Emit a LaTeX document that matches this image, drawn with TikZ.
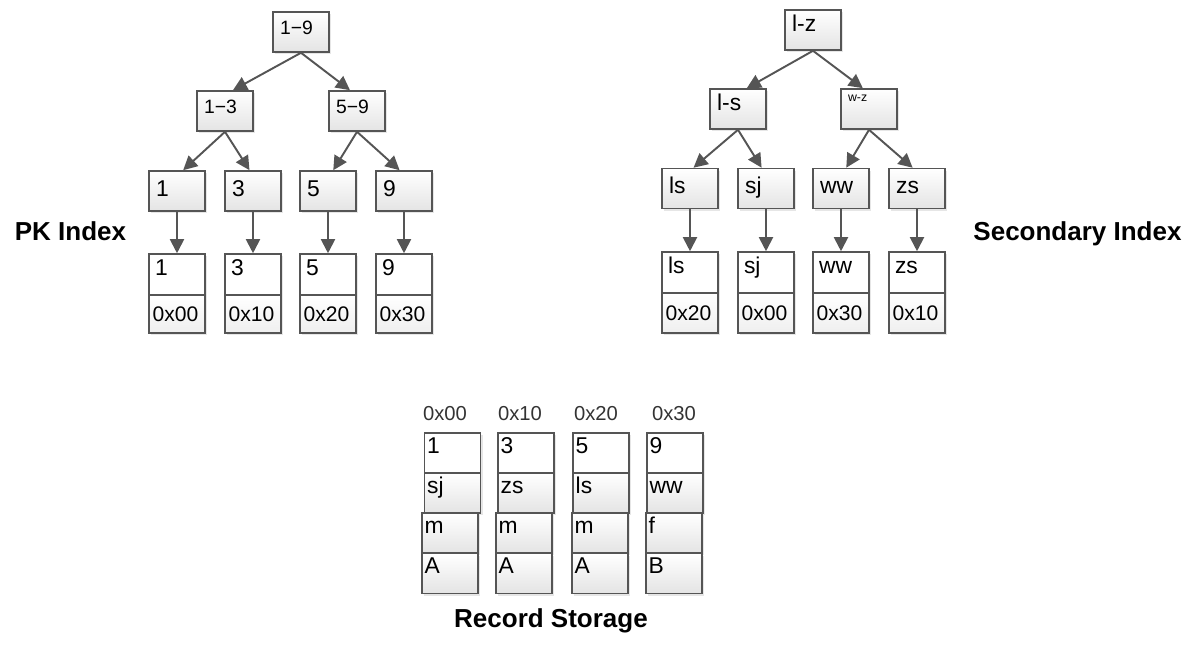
\documentclass[tikz,border=0pt]{standalone}
\usepackage{fontspec}
\setmainfont{Liberation Sans}
\usetikzlibrary{arrows.meta,shadows}

\definecolor{edgegray}{HTML}{555555}
\definecolor{cellfill}{HTML}{E4E4E4}

\tikzstyle{keybox}=[rectangle, draw=edgegray, line width=0.9pt, top color=white, bottom color=cellfill, drop shadow={shadow xshift=1.2pt, shadow yshift=-1.2pt, opacity=0.2}, minimum width=1.12cm, minimum height=0.8cm, inner xsep=4pt, inner ysep=1pt, text width=23.8pt, align=left, font=\fontsize{13}{15}\selectfont, text height=13.4pt, text depth=7.3pt]
\tikzstyle{rangebox}=[keybox, font=\fontsize{11}{13}\selectfont, text height=12pt, text depth=8.7pt]
\tikzstyle{ptrcell}=[rectangle, draw=edgegray, line width=0.9pt, fill=white, drop shadow={shadow xshift=1.2pt, shadow yshift=-1.2pt, opacity=0.2}, minimum width=1.12cm, minimum height=0.82cm, inner xsep=3.4pt, inner ysep=1pt, text width=25pt, align=left, font=\fontsize{13}{15}\selectfont, text height=11.1pt, text depth=10.2pt]
\tikzstyle{addrcell}=[rectangle, draw=edgegray, line width=0.9pt, top color=white, bottom color=cellfill!60, drop shadow={shadow xshift=1.2pt, shadow yshift=-1.2pt, opacity=0.2}, minimum width=1.12cm, minimum height=0.76cm, inner xsep=2pt, inner ysep=1pt, text width=27.8pt, align=left, font=\fontsize{12}{14}\selectfont]
\tikzstyle{firstcell}=[rectangle, draw=edgegray, line width=0.9pt, fill=white, drop shadow={shadow xshift=1.2pt, shadow yshift=-1.2pt, opacity=0.2}, minimum width=1.12cm, minimum height=0.8cm, inner xsep=1.5pt, inner ysep=1pt, text width=28.8pt, align=left, font=\fontsize{13}{15}\selectfont, text height=10.6pt, text depth=10.1pt]
\tikzstyle{fieldcell}=[firstcell, top color=white, bottom color=cellfill]
\tikzstyle{addrlabel}=[inner sep=0pt, text=black!80, font=\fontsize{11.5}{13}\selectfont]
\tikzstyle{title}=[inner sep=0pt, anchor=base, font=\bfseries\fontsize{14.8}{17}\selectfont]
\tikzstyle{link}=[draw=edgegray, line width=1.1pt, -{Triangle[length=8pt,width=8pt]}]

\begin{document}
\begin{tikzpicture}[x=0.02cm, y=-0.02cm]
\useasboundingbox (0,0) rectangle (1186,662);

\node[rangebox] (pk19) at (301,32) {1−9};
\node[rangebox] (pk13) at (225,111) {1−3};
\node[rangebox] (pk59) at (357,111) {5−9};
\node[keybox] (pk1) at (177,191) {1};
\node[keybox] (pk3) at (253,191) {3};
\node[keybox] (pk5) at (328,191) {5};
\node[keybox] (pk9) at (404,191) {9};

\node[ptrcell] (pkr1) at (177,274.5) {1};
\node[addrcell] (pka1) at (177,314) {0x00};
\node[ptrcell] (pkr3) at (253,274.5) {3};
\node[addrcell] (pka3) at (253,314) {0x10};
\node[ptrcell] (pkr5) at (328,274.5) {5};
\node[addrcell] (pka5) at (328,314) {0x20};
\node[ptrcell] (pkr9) at (404,274.5) {9};
\node[addrcell] (pka9) at (404,314) {0x30};

\draw[link] (pk19.south) -- ([xshift=4.5pt]pk13.north);
\draw[link] (pk19.south) -- ([xshift=-4pt]pk59.north);
\draw[link] (pk13.south) -- ([xshift=3.5pt]pk1.north);
\draw[link] (pk13.south) -- ([xshift=-2pt]pk3.north);
\draw[link] (pk59.south) -- ([xshift=3pt]pk5.north);
\draw[link] (pk59.south) -- ([xshift=-2.5pt]pk9.north);
\draw[link] (pk1.south) -- (pkr1.north);
\draw[link] (pk3.south) -- (pkr3.north);
\draw[link] (pk5.south) -- (pkr5.north);
\draw[link] (pk9.south) -- (pkr9.north);

\node[keybox, text height=11.1pt, text depth=9.6pt] (sklz) at (813,30) {l-z};
\node[keybox, text height=11.1pt, text depth=9.6pt] (skls) at (738,109) {l-s};
\node[keybox, font=\fontsize{7}{8}\selectfont, text height=6.3pt, text depth=14.4pt] (skwz) at (869,109) {w-z};
\node[keybox] (skls2) at (690,188.5) {ls};
\node[keybox] (sksj) at (766,188.5) {sj};
\node[keybox] (skww) at (841,188.5) {ww};
\node[keybox] (skzs) at (917,188.5) {zs};

\node[ptrcell] (srls) at (690,272.5) {ls};
\node[addrcell, minimum height=0.8cm] (sals) at (690,313) {0x20};
\node[ptrcell] (srsj) at (766,272.5) {sj};
\node[addrcell, minimum height=0.8cm] (sasj) at (766,313) {0x00};
\node[ptrcell] (srww) at (841,272.5) {ww};
\node[addrcell, minimum height=0.8cm] (saww) at (841,313) {0x30};
\node[ptrcell] (srzs) at (917,272.5) {zs};
\node[addrcell, minimum height=0.8cm] (sazs) at (917,313) {0x10};

\draw[link] (sklz.south) -- ([xshift=5pt]skls.north);
\draw[link] (sklz.south) -- ([xshift=-3.5pt]skwz.north);
\draw[link] (skls.south) -- ([xshift=2pt]skls2.north);
\draw[link] (skls.south) -- ([xshift=-2.5pt]sksj.north);
\draw[link] (skwz.south) -- ([xshift=3pt]skww.north);
\draw[link] (skwz.south) -- ([xshift=-2.5pt]skzs.north);
\draw[link] (skls2.south) -- (srls.north);
\draw[link] (sksj.south) -- (srsj.north);
\draw[link] (skww.south) -- (srww.north);
\draw[link] (skzs.south) -- (srzs.north);

\node[addrlabel] (addr00) at (445,414) {0x00};
\node[addrlabel] (addr10) at (520,414) {0x10};
\node[addrlabel] (addr20) at (596,414) {0x20};
\node[addrlabel] (addr30) at (674,414) {0x30};

\node[firstcell] (rec1a) at (452.5,453) {1};
\node[fieldcell] (rec1b) at (452.5,493) {sj};
\node[fieldcell] (rec1c) at (450,533) {m};
\node[fieldcell] (rec1d) at (450,573.5) {A};

\node[firstcell] (rec2a) at (526,453) {3};
\node[fieldcell] (rec2b) at (526,493) {zs};
\node[fieldcell] (rec2c) at (524,533) {m};
\node[fieldcell] (rec2d) at (524,573.5) {A};

\node[firstcell] (rec3a) at (601,453) {5};
\node[fieldcell] (rec3b) at (601,493) {ls};
\node[fieldcell] (rec3c) at (600,533) {m};
\node[fieldcell] (rec3d) at (600,573.5) {A};

\node[firstcell] (rec4a) at (675,453) {9};
\node[fieldcell] (rec4b) at (675,493) {ww};
\node[fieldcell] (rec4c) at (674,533) {f};
\node[fieldcell] (rec4d) at (674,573.5) {B};

\node[title] (pktitle) at (70.5,240.5) {PK Index};
\node[title] (sectitle) at (1077.5,240) {Secondary Index};
\node[title] (rectitle) at (551,627) {Record Storage};
\end{tikzpicture}
\end{document}
